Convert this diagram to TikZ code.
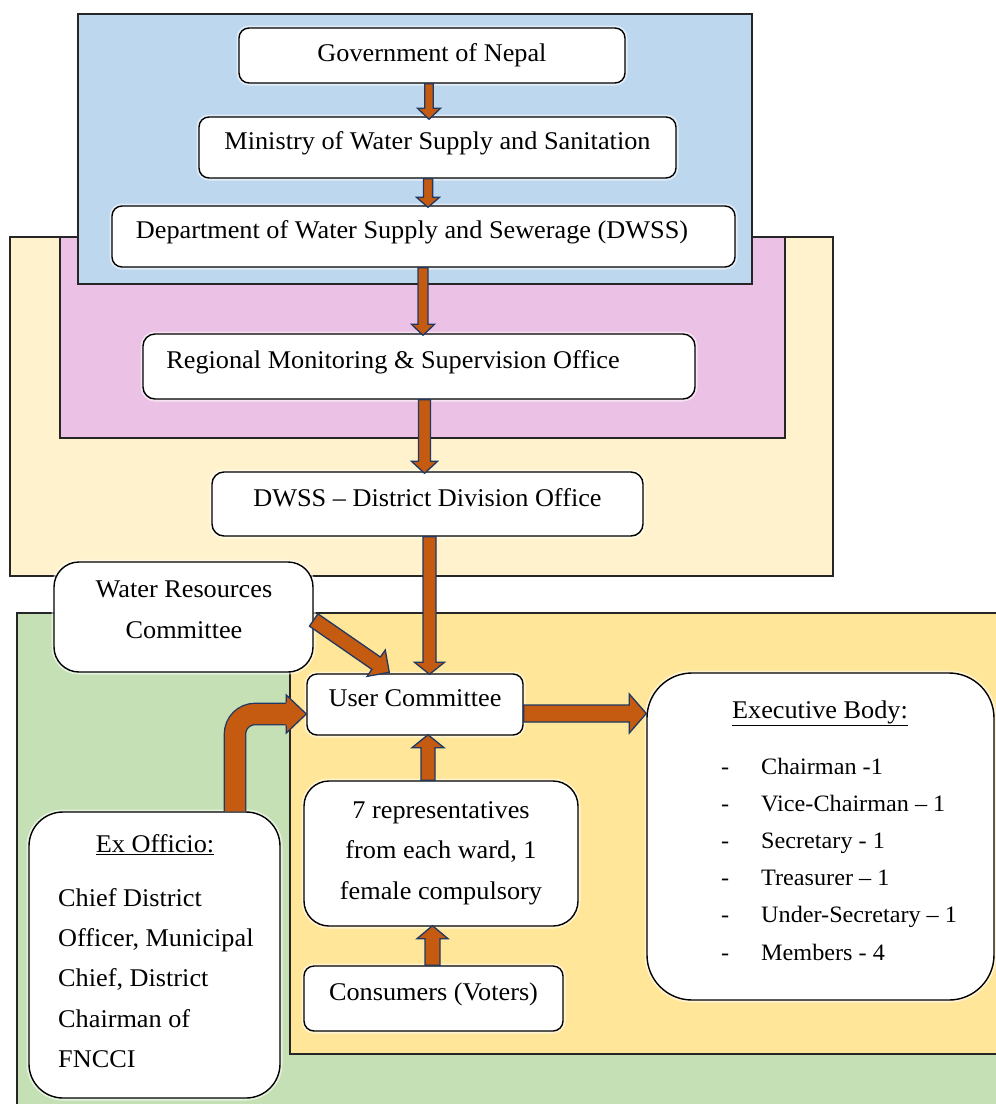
\documentclass[tikz,border=0pt]{standalone}
\usepackage{fontspec}
\setmainfont{Liberation Serif}[FakeStretch=1.03]
\usetikzlibrary{calc}
\definecolor{pblue}{HTML}{BDD7EE}
\definecolor{ppink}{HTML}{EBC2E6}
\definecolor{pcream}{HTML}{FFF2CC}
\definecolor{pgreen}{HTML}{C5E0B4}
\definecolor{pyellow}{HTML}{FFE699}
\definecolor{abrown}{HTML}{C55A11}
\definecolor{anavy}{HTML}{1F3864}
\newcommand{\myfs}{\fontsize{25.5pt}{30pt}\selectfont}
\newcommand{\myfsb}{\fontsize{23.5pt}{28pt}\selectfont}
% block arrow: start, end, shaft half width, head half width, head length
\newcommand{\blkarrow}[5]{%
  \coordinate (ba-s) at (#1);
  \coordinate (ba-e) at (#2);
  \coordinate (ba-h) at ($(ba-e)!#5!(ba-s)$);
  \filldraw[arrowsty]
    ($(ba-s)!#3!90:(ba-e)$) -- ($(ba-h)!#3!90:(ba-e)$) -- ($(ba-h)!#4!90:(ba-e)$)
    -- (ba-e) -- ($(ba-h)!#4!-90:(ba-e)$) -- ($(ba-h)!#3!-90:(ba-e)$)
    -- ($(ba-s)!#3!-90:(ba-e)$) -- cycle;
}
\begin{document}
\begin{tikzpicture}[x=1pt,y=-1pt,
  panel/.style={draw=black!85, line width=1.8pt},
  box/.style={draw=black, line width=1.4pt, fill=white, rounded corners=10pt,
    inner sep=0pt, font=\myfs, text height=15pt, text depth=11pt,
    preaction={draw=white, line width=5pt, opacity=0.55}},
  txt/.style={inner sep=0pt, font=\myfs},
  txtb/.style={inner sep=0pt, font=\myfsb},
  arrowsty/.style={fill=abrown, draw=anavy, line width=1.3pt, line join=miter}]
\useasboundingbox (0,0) rectangle (996,1104);
\clip (0,0) rectangle (996,1104);
% background panels
\draw[panel, fill=pcream] (10,237) rectangle (833,576);
\draw[panel, fill=ppink] (60,237) rectangle (785,438);
\draw[panel, fill=pblue] (78,14) rectangle (752,284);
\draw[panel, fill=pgreen] (17,613) rectangle (1010,1120);
\draw[panel, fill=pyellow] (290,613) rectangle (998,1054);
% boxes
\node[box, minimum width=386pt, minimum height=55pt, text height=17pt, text depth=6pt] (gov) at (432,55.5) {Government of Nepal};
\node[box, minimum width=477pt, minimum height=61pt] (min) at (437.5,147.5) {Ministry of Water Supply and Sanitation};
\node[box, minimum width=623pt, minimum height=61pt] (dept) at (423.5,236.5) {Department of Water Supply and Sewerage (DWSS)\hspace*{23pt}};
\node[box, minimum width=552pt, minimum height=65pt, rounded corners=12pt] (reg) at (419,366.5) {Regional Monitoring \& Supervision Office\hspace*{52pt}};
\node[box, minimum width=431pt, minimum height=64pt, rounded corners=12pt] (dist) at (427.5,504) {DWSS – District Division Office};
\node[box, minimum width=259pt, minimum height=110pt, rounded corners=25pt] (wr) at (183.5,617) {};
\node[txt, anchor=base] (wr1) at (184,597) {Water Resources};
\node[txt, anchor=base] (wr2) at (184,638) {Committee};
\node[box, minimum width=216pt, minimum height=61pt] (uc) at (415,704.5) {User Committee};
\node[box, minimum width=274pt, minimum height=145pt, rounded corners=25pt] (reps) at (441,853.5) {};
\node[txt, anchor=base] (reps1) at (441,818) {7 representatives};
\node[txt, anchor=base] (reps2) at (441,858) {from each ward, 1};
\node[txt, anchor=base] (reps3) at (441,899) {female compulsory};
\node[box, minimum width=259pt, minimum height=65pt] (cons) at (433.5,998.5) {Consumers (Voters)};
\node[box, minimum width=251pt, minimum height=286pt, rounded corners=34pt] (exo) at (154.5,955) {};
\node[txt, anchor=base] (exot) at (155,852) {\underline{Ex Officio:}};
\node[txt, anchor=base west] (exo1) at (58,906) {Chief District};
\node[txt, anchor=base west] (exo2) at (58,946) {Officer, Municipal};
\node[txt, anchor=base west] (exo3) at (58,986.5) {Chief, District};
\node[txt, anchor=base west] (exo4) at (58,1027) {Chairman of};
\node[txt, anchor=base west] (exo5) at (58,1067) {FNCCI};
\node[box, minimum width=347pt, minimum height=327pt, rounded corners=45pt] (exec) at (820.5,836.5) {};
\node[txt, anchor=base] (exect) at (820,718) {\underline{Executive Body:}};
\foreach \i/\t in {0/Chairman -1, 1/Vice-Chairman – 1, 2/Secretary - 1, 3/Treasurer – 1, 4/Under-Secretary – 1, 5/Members - 4}{
  \node[txtb, anchor=base west] (execd\i) at (721,774+37.2*\i) {-};
  \node[txtb, anchor=base west] (execi\i) at (761,774+37.2*\i) {\t};
}
% straight arrows
\blkarrow{$(gov.south)+(-3,0)$}{$(min.north)+(-8.5,3)$}{4.3pt}{11.5pt}{11pt}
\blkarrow{$(min.south)+(-9.5,0)$}{$(dept.north)+(4.5,2)$}{4.6pt}{11.5pt}{10pt}
\blkarrow{$(dept.south)+(-0.5,0)$}{$(reg.north)+(4,2)$}{5pt}{11.5pt}{11pt}
\blkarrow{$(reg.south)+(5.5,0)$}{$(dist.north)+(-3,2)$}{6pt}{13pt}{12pt}
\blkarrow{$(dist.south)+(2,0)$}{$(uc.north)+(14.5,1)$}{6.5pt}{15pt}{12pt}
\blkarrow{$(reps.north)+(-13,0)$}{$(uc.south)+(13,-1)$}{7pt}{16pt}{13pt}
\blkarrow{$(cons.north)+(-1,0)$}{$(reps.south)+(-8.5,-1)$}{7.5pt}{15.5pt}{13pt}
\blkarrow{$(uc.east)+(0,9)$}{$(exec.west)+(0,-123)$}{8.5pt}{19.5pt}{17pt}
\blkarrow{$(wr.east)+(0,3)$}{$(uc.north west)+(83,-1)$}{7.5pt}{16pt}{16pt}
% bent arrow from Ex Officio
\coordinate (b7s) at ($(exo.north)+(80.5,0)$);
\coordinate (b7e) at ($(uc.west)+(0,9.5)$);
\coordinate (b7h) at ($(b7e)+(-20,0)$);
\draw[anavy, line width=22.6pt, rounded corners=20pt] (b7s) |- (b7h);
\draw[abrown, line width=20pt, rounded corners=20pt] (b7s) |- (b7h);
\fill[abrown] ($(b7h)+(-0.5,-10)$) -- ($(b7h)+(0,-19)$) -- (b7e) -- ($(b7h)+(0,19)$) -- ($(b7h)+(-0.5,10)$) -- cycle;
\draw[anavy, line width=1.3pt, line join=miter] ($(b7h)+(0,-11.3)$) -- ($(b7h)+(0,-19)$) -- (b7e) -- ($(b7h)+(0,19)$) -- ($(b7h)+(0,11.3)$);
\end{tikzpicture}
\end{document}
